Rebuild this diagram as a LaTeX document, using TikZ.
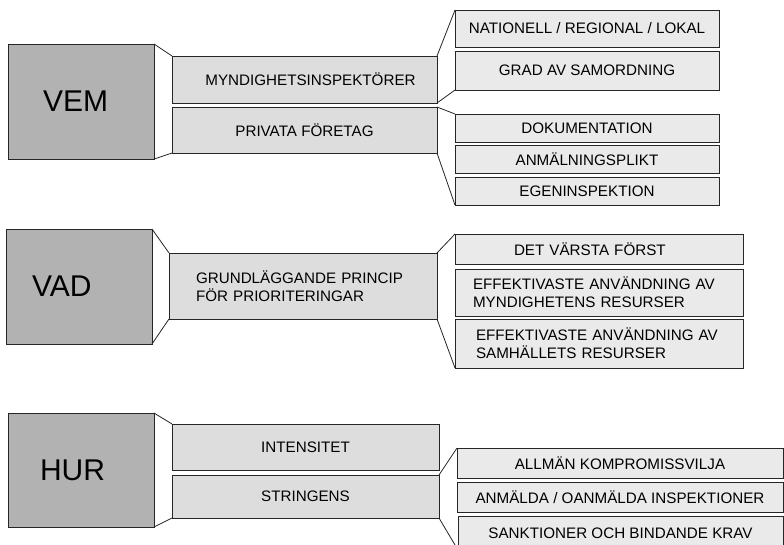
\documentclass[tikz,border=0pt]{standalone}
\usepackage{fontspec}
\setmainfont{Liberation Sans}
\definecolor{bigfill}{HTML}{B2B2B2}
\definecolor{midfill}{HTML}{DDDDDD}
\definecolor{rfill}{HTML}{EAEAEA}
\definecolor{linec}{HTML}{262626}
\begin{document}
\begin{tikzpicture}[x=1pt,y=-1pt,
  base/.style={draw=linec, line width=0.9pt, rectangle, anchor=north west, inner sep=0pt, outer sep=0pt},
  bigbox/.style={base, fill=bigfill, font=\fontsize{30}{36}\selectfont, align=left},
  midbox/.style={base, fill=midfill, font=\fontsize{15.2}{18.2}\selectfont},
  rbox/.style={base, fill=rfill, font=\fontsize{15.2}{18.2}\selectfont},
  conn/.style={draw=linec, line width=0.8pt}]
\clip (0,0) rectangle (784,544);
\useasboundingbox (0,0) rectangle (784,544);
\fill[white] (0,0) rectangle (784,544);

% ---------- VEM ----------
\node[bigbox, minimum width=146, minimum height=115, text width=76, inner xsep=35] (vem) at (8,44) {VEM};
\node[midbox, minimum width=265, minimum height=47] (mynd) at (172,56) {\hspace*{12pt}MYNDIGHETSINSPEKTÖRER};
\node[midbox, minimum width=265, minimum height=46] (priv) at (172,107) {PRIVATA FÖRETAG};
\node[rbox, minimum width=264, minimum height=37] (nat) at (455,10) {NATIONELL / REGIONAL / LOKAL};
\node[rbox, minimum width=264, minimum height=39] (grad) at (455,51) {GRAD AV SAMORDNING};
\node[rbox, minimum width=264, minimum height=28] (dok) at (455,114) {DOKUMENTATION};
\node[rbox, minimum width=264, minimum height=28] (anm) at (455,145) {ANMÄLNINGSPLIKT};
\node[rbox, minimum width=264, minimum height=28] (egen) at (455,177) {EGENINSPEKTION};
\draw[conn] (vem.north east) -- (mynd.north west);
\draw[conn] (vem.south east) -- (priv.south west);
\draw[conn] (mynd.north east) -- (nat.north west);
\draw[conn] (mynd.south east) -- (grad.south west);
\draw[conn] (priv.north east) -- (dok.north west);
\draw[conn] (priv.south east) -- (egen.south west);

% ---------- VAD ----------
\node[bigbox, minimum width=146, minimum height=115, text width=94, inner xsep=26] (vad) at (6,229) {VAD};
\node[midbox, minimum width=268, minimum height=66, text width=214, inner xsep=27, align=left] (grund) at (169,253) {GRUNDLÄGGANDE PRINCIP\\FÖR PRIORITERINGAR};
\node[rbox, minimum width=288, minimum height=30, text width=170, inner xsep=59, align=left] (varst) at (455,234) {DET VÄRSTA FÖRST};
\node[rbox, minimum width=288, minimum height=47, text width=252, inner xsep=18, align=left] (eff1) at (455,269) {EFFEKTIVASTE ANVÄNDNING AV\\MYNDIGHETENS RESURSER};
\node[rbox, minimum width=288, minimum height=49, text width=246, inner xsep=21, align=left] (eff2) at (455,319) {EFFEKTIVASTE ANVÄNDNING AV\\SAMHÄLLETS RESURSER};
\draw[conn] (vad.north east) -- (grund.north west);
\draw[conn] (vad.south east) -- (grund.south west);
\draw[conn] (grund.north east) -- (varst.north west);
\draw[conn] (grund.south east) -- (eff2.south west);

% ---------- HUR ----------
\node[bigbox, minimum width=146, minimum height=114, text width=82, inner xsep=32] (hur) at (8,413) {HUR};
\node[midbox, minimum width=267, minimum height=46] (int) at (172,424) {INTENSITET};
\node[midbox, minimum width=267, minimum height=43] (str) at (172,475) {STRINGENS};
\node[rbox, minimum width=326, minimum height=30] (allm) at (457,448) {ALLMÄN KOMPROMISSVILJA};
\node[rbox, minimum width=326, minimum height=30] (anmald) at (457,482) {ANMÄLDA / OANMÄLDA INSPEKTIONER};
\node[rbox, minimum width=325, minimum height=34] (sank) at (458,516) {SANKTIONER OCH BINDANDE KRAV};
\draw[conn] (hur.north east) -- (int.north west);
\draw[conn] (hur.south east) -- (str.south west);
\draw[conn] (str.north east) -- (allm.north west);
\draw[conn] (str.south east) -- (sank.south west);
\end{tikzpicture}
\end{document}
